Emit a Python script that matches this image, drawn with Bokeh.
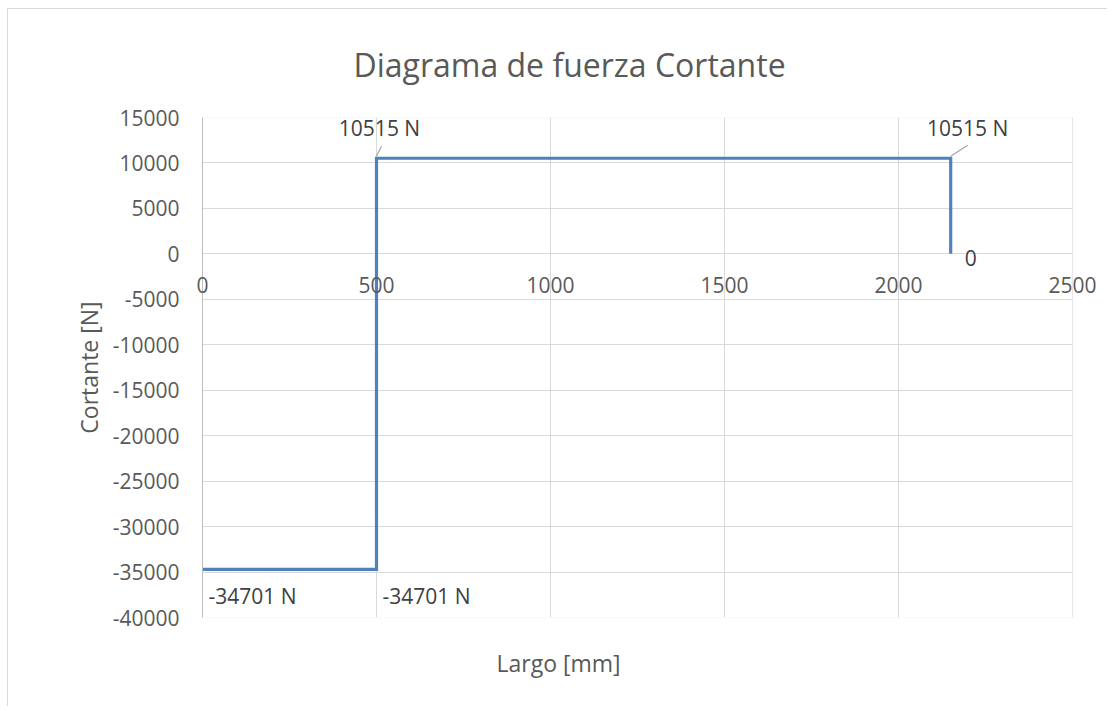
from bokeh.plotting import figure
from bokeh.models import Range1d, FixedTicker, Label, Title, BoxAnnotation, Span
from bokeh.embed import file_html
from bokeh.resources import INLINE

# ---- data ----
largo = [0, 500, 500, 2150, 2150]
cortante = [-34701, -34701, 10515, 10515, 0]
x_ticks = [0, 500, 1000, 1500, 2000, 2500]
y_ticks = [-40000, -35000, -30000, -25000, -20000, -15000, -10000, -5000, 0, 5000, 10000, 15000]
x_min, x_max = 0, 2500
y_min, y_max = -40000, 15000
x_axis_crossing = 0
label_texts = ["-34701 N", "-34701 N", "10515 N", "10515 N", "0"]

FONT = "Open Sans"
GREY_TXT = "#595959"
GRID = "#d9d9d9"
LINE = "#4f81bd"

# layout (pixels)
W, H = 1100, 698
AREA_L, AREA_W = 194, 870        # plot area inside the canvas
PAD_L, PAD_R = 14, 30            # room so the x labels at the ends are not clipped
MT, MB = 108, 90
ML = AREA_L - PAD_L
MR = W - AREA_L - AREA_W - PAD_R
frame_h = H - MT - MB
px_x = (x_max - x_min) / AREA_W
px_y = (y_max - y_min) / frame_h

p = figure(width=W, height=H, output_backend="svg", toolbar_location=None,
           x_range=Range1d(x_min - PAD_L * px_x, x_max + PAD_R * px_x),
           y_range=Range1d(y_min, y_max),
           min_border_left=ML, min_border_right=MR, min_border_top=MT, min_border_bottom=MB)
p.styles = {"margin-left": "7px", "margin-top": "8px",
            "border-left": "1px solid #d9d9d9", "border-top": "1px solid #d9d9d9"}
p.background_fill_color = "white"
p.border_fill_color = "white"
p.outline_line_color = None

# title
t = Title(text="Diagrama de fuerza Cortante", align="left", offset=165, standoff=63,
          text_font=FONT, text_font_size="32px", text_font_style="normal", text_color=GREY_TXT)
p.add_layout(t, "above")

# grids
p.xgrid.ticker = FixedTicker(ticks=x_ticks)
p.ygrid.ticker = FixedTicker(ticks=y_ticks)
p.xgrid.grid_line_color = GRID
p.ygrid.grid_line_color = GRID

# white masks outside the plot area, plot area border
p.add_layout(BoxAnnotation(right=x_min, fill_color="white", fill_alpha=1, line_alpha=0, level="glyph"))
p.add_layout(BoxAnnotation(left=x_max, fill_color="white", fill_alpha=1, line_alpha=0, level="glyph"))
p.add_layout(BoxAnnotation(left=x_min, right=x_max, bottom=y_min, top=y_max, fill_alpha=0,
                           line_color=GRID, line_width=1, level="glyph"))
p.add_layout(Span(location=x_min, dimension="height", line_color="#bfbfbf", line_width=1, level="glyph"))

# y axis
p.yaxis.ticker = FixedTicker(ticks=y_ticks)
p.yaxis.major_label_overrides = {v: str(v) for v in y_ticks}
p.yaxis.major_tick_line_color = None
p.yaxis.minor_tick_line_color = None
p.yaxis.axis_line_color = None
p.yaxis.major_label_standoff = 3
p.yaxis.major_label_text_font = FONT
p.yaxis.major_label_text_font_size = "21px"
p.yaxis.major_label_text_color = GREY_TXT
p.yaxis.axis_label = "Cortante [N]"
p.yaxis.axis_label_text_font = FONT
p.yaxis.axis_label_text_font_size = "23px"
p.yaxis.axis_label_text_font_style = "normal"
p.yaxis.axis_label_text_color = GREY_TXT
p.yaxis.axis_label_standoff = 5

# x axis: labels drawn along the y=0 crossing
p.xaxis.visible = False
for xv in x_ticks:
    p.add_layout(Label(x=xv, y=x_axis_crossing, text=str(xv), y_offset=-31,
                       text_align="center", text_baseline="middle", level="overlay",
                       text_font=FONT, text_font_size="21px", text_color=GREY_TXT))

xl = Title(text="Largo [mm]", align="left", offset=308, standoff=54,
           text_font=FONT, text_font_size="23px", text_font_style="normal", text_color=GREY_TXT)
p.add_layout(xl, "below")

# series line
p.line(largo, cortante, line_color=LINE, line_width=3.2, line_join="miter")

# leader lines for top labels
lead_idx = [2, 3]
lead_dx = [5, 17]
lead_dy = [10, 11]
p.segment(x0=[largo[i] for i in lead_idx], y0=[cortante[i] + 2 * px_y for i in lead_idx],
          x1=[largo[i] + d * px_x for i, d in zip(lead_idx, lead_dx)],
          y1=[cortante[i] + (2 + e) * px_y for i, e in zip(lead_idx, lead_dy)],
          line_color="#a6a6a6", line_width=1.2)

# data labels
offsets = [(6, -27, "left"), (6, -27, "left"), (3, 30, "center"), (17, 30, "center"), (14, -4, "left")]
for i, (dx, dy, al) in enumerate(offsets):
    p.add_layout(Label(x=largo[i], y=cortante[i], text=label_texts[i], x_offset=dx, y_offset=dy,
                       text_align=al, text_baseline="middle", level="overlay",
                       text_font=FONT, text_font_size="21px", text_color="#404040"))

open("out.html", "w").write(file_html(p, INLINE))
